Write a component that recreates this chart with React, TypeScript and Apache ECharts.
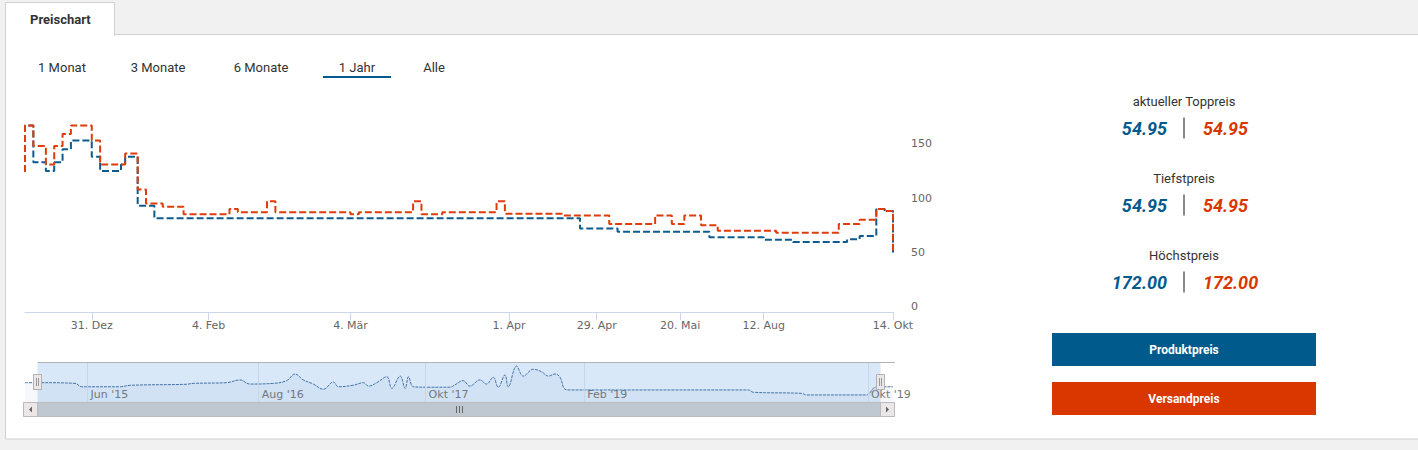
import React, { useEffect, useRef } from 'react';
import * as echarts from 'echarts';

// ---- main chart (ordinal positions of the price points, 1 Jahr) ----
const mainTickIndex = [16, 44, 78, 116, 137, 157, 177, 208];
const mainTickLabels = ['31. Dez', '4. Feb', '4. Mär', '1. Apr', '29. Apr', '20. Mai', '12. Aug', '14. Okt'];

const produktX = [0, 0, 2, 5, 7, 9, 11, 16, 18, 23, 24, 27, 31, 133, 142, 164, 177, 184, 197, 200, 204, 206, 208];
const produktY = [129, 172, 138, 130, 138, 150, 158, 143, 130, 136, 143, 98, 86.5, 77, 74, 69, 66.5, 64.5, 67, 70, 95, 93, 54.95];

const versandX = [0, 0, 2, 5, 7, 9, 11, 16, 18, 24, 27, 29, 33, 38, 49, 51, 58, 60, 78, 80, 93, 95, 100, 113, 115, 129, 140, 151, 155, 158, 162, 166, 180, 195, 200, 204, 206, 208];
const versandY = [129, 172, 153, 136, 153, 164, 172, 158, 136, 146, 113, 100, 97, 90, 95, 92, 102, 92, 90, 92, 102, 90, 92, 102, 90.5, 89, 81, 89, 81, 89, 80, 75, 73, 81, 85, 95, 93, 54.95];

// ---- navigator (whole history, ordinal positions) ----
const navX = [0, 4.0, 12.0, 13.6, 22.8, 25.2, 38.7, 40.3, 48.3, 51.5, 53.9, 59.5, 62.7, 64.7, 66.7, 69.1, 71.5, 73.9, 75.1, 78.7, 81.1, 82.3, 84.3, 86.7, 87.9, 89.9, 91.1, 91.9, 93.1, 97.1, 101.8, 103.0, 105.0, 106.6, 109.0, 110.6, 112.2, 113.4, 115.0, 115.8, 117.8, 119.4, 121.8, 123.8, 125.4, 127.0, 128.2, 129.4, 130.6, 173.3, 174.5, 186.1, 187.3, 201.7, 203.3, 204.5, 208];
const navY = [119, 119, 116, 101, 101, 107.5, 112, 116, 119, 131, 113, 116, 128, 157, 131, 113, 90, 122, 101, 108, 119, 104, 119, 145, 94, 148, 94, 145, 101, 99, 99, 109, 128, 104, 131, 113, 143, 99, 153, 101, 192, 148, 178, 167, 148, 157, 143, 90, 87, 87, 77, 72, 65, 65, 94, 101, 101];
const navTickIndex = [15, 56, 96, 134, 202];
const navTickLabels = ["Jun '15", "Aug '16", "Okt '17", "Feb '19", "Okt '19"];
const navSelection = [2.9, 204.9];

// ---- UI texts ----
const rangeButtons = ['1 Monat', '3 Monate', '6 Monate', '1 Jahr', 'Alle'];
const activeRange = 3;
const statLabels = ['aktueller Toppreis', 'Tiefstpreis', 'Höchstpreis'];
const statProdukt = ['54.95', '54.95', '172.00'];
const statVersand = ['54.95', '54.95', '172.00'];
const legendNames = ['Produktpreis', 'Versandpreis'];

const BLUE = '#005a8c';
const ORANGE = '#d93600';
const LINE_BLUE = '#0d5c8d';
const LINE_ORANGE = '#de3c0a';
const UI_FONT = 'Roboto';
const CHART_FONT = 'DejaVu Sans';

const rangeCenters = [62, 158, 261, 357, 434];

const zip = (xs: number[], ys: number[]) => xs.map((x, i) => [x, ys[i]]);

export default function App() {
  const ref = useRef<HTMLDivElement>(null);

  useEffect(() => {
    if (!ref.current) return;
    const chart = echarts.init(ref.current, undefined, { renderer: 'svg' });

    const option: any = {
      animation: false,
      backgroundColor: '#f1f1f1',
      textStyle: { fontFamily: CHART_FONT },
      grid: [
        { left: 25, top: 95, width: 868, height: 217, containLabel: false, outerBoundsMode: 'none' },
        { left: 25, top: 362, width: 868, height: 40, containLabel: false, outerBoundsMode: 'none' },
      ],
      xAxis: [
        {
          type: 'value', gridIndex: 0, min: 0, max: 208,
          axisLine: { show: true, lineStyle: { color: '#ccd6eb', width: 1 } },
          axisTick: { show: true, customValues: mainTickIndex, length: 8, lineStyle: { color: '#ccd6eb' } },
          axisLabel: {
            customValues: mainTickIndex,
            formatter: (v: number) => { const i = mainTickIndex.indexOf(v); return i >= 0 ? mainTickLabels[i] : ''; },
            color: '#666', fontSize: 11, fontFamily: CHART_FONT, margin: 8, hideOverlap: false,
            showMinLabel: true, showMaxLabel: true,
          },
          splitLine: { show: false },
        },
        {
          type: 'value', gridIndex: 1, min: 0, max: 208,
          axisLine: { show: false }, axisTick: { show: false },
          axisLabel: {
            customValues: navTickIndex, inside: true, align: 'left',
            formatter: (v: number) => { const i = navTickIndex.indexOf(v); return i >= 0 ? navTickLabels[i] : ''; },
            color: '#777', fontSize: 11, fontFamily: CHART_FONT, margin: 2, padding: [0, 0, 0, 3], hideOverlap: false,
            showMinLabel: true, showMaxLabel: true,
          },
          splitLine: { show: false },
        },
      ],
      yAxis: [
        {
          type: 'value', gridIndex: 0, position: 'right', min: 0, max: 200, interval: 50,
          axisLine: { show: false }, axisTick: { show: false },
          axisLabel: {
            formatter: (v: number) => (v === 200 ? '' : String(v)),
            color: '#666', fontSize: 11, fontFamily: CHART_FONT, margin: 18, align: 'left', verticalAlign: 'bottom',
          },
          splitLine: { show: true, lineStyle: { color: '#dedede', width: 1 } },
        },
        { type: 'value', gridIndex: 1, min: 34, max: 210, show: false, splitLine: { show: false } },
      ],
      series: [
        {
          name: legendNames[0], type: 'line', xAxisIndex: 0, yAxisIndex: 0, step: 'end',
          data: zip(produktX, produktY), symbol: 'none', clip: false, z: 3,
          lineStyle: { color: LINE_BLUE, width: 2, type: [7, 3] },
        },
        {
          name: legendNames[1], type: 'line', xAxisIndex: 0, yAxisIndex: 0, step: 'end',
          data: zip(versandX, versandY), symbol: 'none', clip: false, z: 4,
          lineStyle: { color: LINE_ORANGE, width: 2, type: [7, 3] },
        },
        {
          name: 'Navigator', type: 'line', xAxisIndex: 1, yAxisIndex: 1,
          data: zip(navX, navY), smooth: 0.4, symbol: 'none', z: 3,
          lineStyle: { color: '#4572A7', width: 1, type: [3, 1] },
          areaStyle: { color: '#4572A7', opacity: 0.05 },
          markLine: {
            silent: true, symbol: ['none', 'none'], label: { show: false },
            lineStyle: { color: '#c6d5ea', width: 1, type: 'solid' },
            emphasis: { disabled: true },
            data: navTickIndex.map((v) => ({ xAxis: v })),
          },
        },
      ],
    };
    chart.setOption(option);

    const px = (v: number) => chart.convertToPixel({ xAxisIndex: 1 }, v) as number;
    const py = (v: number) => chart.convertToPixel({ yAxisIndex: 1 }, v) as number;
    const m0 = Math.round(px(navSelection[0])) + 0.5;
    const m1 = Math.round(px(navSelection[1])) + 0.5;
    const navTop = Math.round(py(210));
    const navBottom = Math.round(py(34));
    const navLeft = Math.round(px(0));
    const navRight = Math.round(px(208));
    const handleMid = (navTop + navBottom) / 2;

    const g: any[] = [];
    // panel and tab
    g.push({ type: 'rect', silent: true, shape: { x: 5.5, y: 34.5, width: 1440, height: 404.5 }, style: { fill: '#fff', stroke: '#d0d0d0', lineWidth: 1 } });
    g.push({ type: 'rect', silent: true, shape: { x: 5.5, y: 2.5, width: 109, height: 33 }, style: { fill: '#fff', stroke: '#d0d0d0', lineWidth: 1 } });
    g.push({ type: 'rect', silent: true, shape: { x: 6, y: 33, width: 108, height: 3 }, style: { fill: '#fff' } });
    g.push({ type: 'text', silent: true, x: 30, y: 19, style: { text: 'Preischart', fontFamily: UI_FONT, fontSize: 13, fontWeight: 'bold', fill: '#333', align: 'left', verticalAlign: 'middle' } });
    rangeButtons.forEach((t, i) => {
      g.push({ type: 'text', silent: true, x: rangeCenters[i], y: 67, style: { text: t, fontFamily: UI_FONT, fontSize: 13, fill: '#333', align: 'center', verticalAlign: 'middle' } });
    });
    g.push({ type: 'rect', silent: true, shape: { x: rangeCenters[activeRange] - 34, y: 76, width: 68, height: 2 }, style: { fill: BLUE } });

    // statistics
    statLabels.forEach((t, i) => {
      const base = 101 + i * 77;
      g.push({ type: 'text', silent: true, x: 1184, y: base, style: { text: t, fontFamily: UI_FONT, fontSize: 13, fill: '#333', align: 'center', verticalAlign: 'middle' } });
      g.push({ type: 'text', silent: true, x: 1167, y: base + 27, style: { text: statProdukt[i], fontFamily: UI_FONT, fontSize: 18, fontWeight: 'bold', fontStyle: 'italic', fill: BLUE, align: 'right', verticalAlign: 'middle' } });
      g.push({ type: 'text', silent: true, x: 1203, y: base + 27, style: { text: statVersand[i], fontFamily: UI_FONT, fontSize: 18, fontWeight: 'bold', fontStyle: 'italic', fill: ORANGE, align: 'left', verticalAlign: 'middle' } });
      g.push({ type: 'line', silent: true, shape: { x1: 1184, y1: base + 16.5, x2: 1184, y2: base + 37.5 }, style: { stroke: '#8a8a8a', lineWidth: 2 } });
    });

    // legend buttons
    [BLUE, ORANGE].forEach((c, i) => {
      const y = 333 + i * 49;
      g.push({ type: 'rect', silent: true, shape: { x: 1052, y, width: 264, height: 33 }, style: { fill: c } });
      g.push({ type: 'text', silent: true, x: 1184, y: y + 16.5, style: { text: legendNames[i], fontFamily: UI_FONT, fontSize: 12, fontWeight: 'bold', fill: '#fff', align: 'center', verticalAlign: 'middle' } });
    });

    // navigator mask + outline
    g.push({ type: 'rect', silent: true, shape: { x: m0, y: navTop, width: m1 - m0, height: navBottom - navTop }, style: { fill: '#d9e8f9' } });
    g.push({ type: 'line', silent: true, z: 10, shape: { x1: m0, y1: navTop + 0.5, x2: navRight + 2, y2: navTop + 0.5 }, style: { stroke: '#b2b1b6', lineWidth: 1 } });

    // handles
    [m0, m1].forEach((m) => {
      g.push({ type: 'rect', silent: true, z: 12, shape: { x: Math.floor(m) - 3.5, y: Math.round(handleMid) - 7.5, width: 8, height: 15 }, style: { fill: '#ebe7e8', stroke: '#b2b1b6', lineWidth: 1 } });
      g.push({ type: 'line', silent: true, z: 13, shape: { x1: Math.floor(m) - 0.5, y1: handleMid - 4, x2: Math.floor(m) - 0.5, y2: handleMid + 4 }, style: { stroke: '#999', lineWidth: 1 } });
      g.push({ type: 'line', silent: true, z: 13, shape: { x1: Math.floor(m) + 1.5, y1: handleMid - 4, x2: Math.floor(m) + 1.5, y2: handleMid + 4 }, style: { stroke: '#999', lineWidth: 1 } });
    });

    // scrollbar
    const sbTop = navBottom + 0.5;
    const sbH = 14;
    const sbLeft = navLeft - 1.5;
    const sbRight = navRight + 1.5;
    g.push({ type: 'rect', silent: true, z: 10, shape: { x: sbLeft, y: sbTop, width: sbRight - sbLeft, height: sbH }, style: { fill: '#eeeeee', stroke: '#cccccc', lineWidth: 1 } });
    g.push({ type: 'rect', silent: true, z: 11, shape: { x: m0, y: sbTop, width: m1 - m0, height: sbH }, style: { fill: '#bfc8d1', stroke: '#bbbbbb', lineWidth: 1 } });
    g.push({ type: 'rect', silent: true, z: 12, shape: { x: sbLeft, y: sbTop, width: m0 - sbLeft, height: sbH }, style: { fill: '#ebe7e8', stroke: '#bbbbbb', lineWidth: 1 } });
    g.push({ type: 'rect', silent: true, z: 12, shape: { x: m1, y: sbTop, width: sbRight - m1, height: sbH }, style: { fill: '#ebe7e8', stroke: '#bbbbbb', lineWidth: 1 } });
    const lb = (sbLeft + m0) / 2;
    const rb = (m1 + sbRight) / 2;
    const cy = sbTop + sbH / 2;
    g.push({ type: 'polygon', silent: true, z: 13, shape: { points: [[lb + 1.5, cy - 3], [lb + 1.5, cy + 3], [lb - 1.5, cy]] }, style: { fill: '#666' } });
    g.push({ type: 'polygon', silent: true, z: 13, shape: { points: [[rb - 1.5, cy - 3], [rb - 1.5, cy + 3], [rb + 1.5, cy]] }, style: { fill: '#666' } });
    const cx = Math.round((m0 + m1) / 2) + 0.5;
    [-3, 0, 3].forEach((d) => {
      g.push({ type: 'line', silent: true, z: 13, shape: { x1: cx + d, y1: cy - 3.5, x2: cx + d, y2: cy + 3.5 }, style: { stroke: '#666', lineWidth: 1 } });
    });

    chart.setOption({ graphic: g });

    return () => chart.dispose();
  }, []);

  return <div ref={ref} style={{ position: 'absolute', left: 0, top: 0, width: 1418, height: 450 }} />;
}
